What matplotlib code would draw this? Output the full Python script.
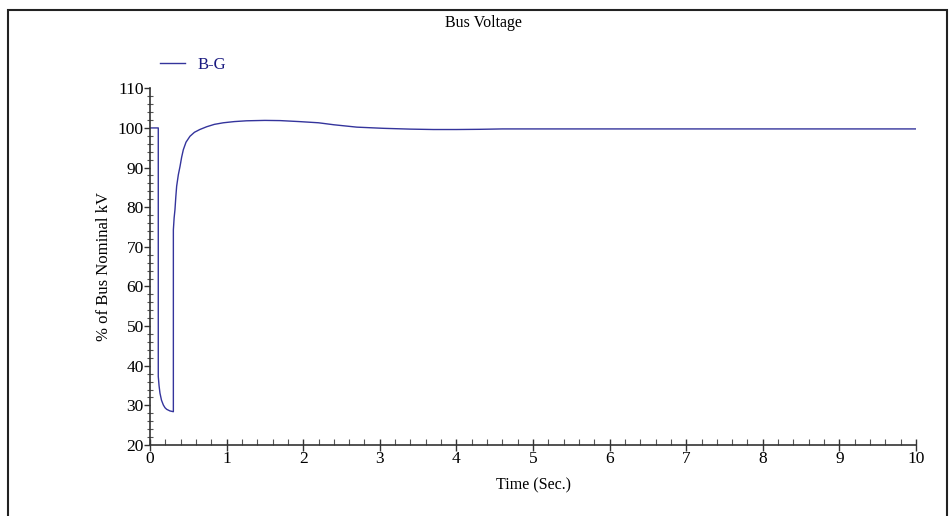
import matplotlib
matplotlib.use("Agg")
import matplotlib.pyplot as plt
from matplotlib.ticker import MultipleLocator
from matplotlib.patches import Rectangle

# bus voltage trace (time in s, % of nominal kV)
time = [0.0, 0.108, 0.108, 0.118, 0.13, 0.15, 0.174, 0.196, 0.218, 0.26,
        0.305, 0.305, 0.315, 0.326, 0.337, 0.348, 0.37, 0.392, 0.413, 0.435,
        0.47, 0.522, 0.58, 0.65, 0.74, 0.84, 0.957, 1.1, 1.26, 1.5,
        1.7, 1.95, 2.2, 2.4, 2.7, 3.05, 3.4, 3.7, 4.0, 4.3,
        4.6, 5.0, 6.0, 7.0, 8.0, 9.0, 10.0]
voltage = [100.0, 100.0, 37.3, 35.0, 33.1, 31.3, 30.1, 29.4, 29.0, 28.6,
           28.4, 74.3, 77.3, 79.4, 82.6, 85.3, 88.2, 90.3, 92.6, 94.5,
           96.4, 97.9, 98.9, 99.6, 100.3, 100.9, 101.3, 101.6, 101.8, 101.9,
           101.85, 101.6, 101.3, 100.8, 100.2, 99.9, 99.7, 99.6, 99.6, 99.65,
           99.75, 99.75, 99.75, 99.75, 99.75, 99.75, 99.75]

line_col = "#34349c"
plt.rcParams["font.family"] = ["Liberation Serif", "DejaVu Serif"]

fig = plt.figure(figsize=(9.49, 5.16), dpi=100)
ax = fig.add_axes([150 / 949, 1 - 445 / 516, 766 / 949, (445 - 88.3) / 516])

ax.plot(time, voltage, color=line_col, lw=1.0, label="B-G")

ax.set_xlim(0, 10)
ax.set_ylim(20, 110)
ax.xaxis.set_major_locator(MultipleLocator(1))
ax.xaxis.set_minor_locator(MultipleLocator(0.2))
ax.yaxis.set_major_locator(MultipleLocator(10))
ax.yaxis.set_minor_locator(MultipleLocator(2))

for s in ["top", "right"]:
    ax.spines[s].set_visible(False)
for s in ["left", "bottom"]:
    ax.spines[s].set_color("#333333")
    ax.spines[s].set_linewidth(1.2)

ax.tick_params(axis="x", which="major", direction="inout", length=8, width=1, colors="#333333",
               labelsize=12.5, labelcolor="black", pad=0)
ax.tick_params(axis="x", which="minor", direction="in", length=4, width=0.8, colors="#555555")
ax.tick_params(axis="y", which="major", direction="out", length=4, width=1, colors="#333333",
               labelsize=12.5, labelcolor="black", pad=0.5)
ax.tick_params(axis="y", which="minor", direction="inout", length=4, width=0.8, colors="#555555")

ax.set_xlabel("Time (Sec.)", fontsize=11.5, labelpad=8)
ax.set_ylabel("% of Bus Nominal kV", fontsize=12, labelpad=4)

fig.text(483 / 949, 1 - 23 / 516, "Bus Voltage", ha="center", va="center", fontsize=11.5)

ax.legend(loc="upper left", bbox_to_anchor=(-0.006, 1.13), frameon=False, fontsize=12,
          handlelength=1.5, handletextpad=0.7, labelcolor="#1a1a80")

# outer frame of the plot window
fig.patches.append(Rectangle((8 / 949, -0.05), (947 - 8) / 949, 1.05 - 10 / 516,
                             transform=fig.transFigure, fill=False,
                             edgecolor="#222222", lw=1.5))

fig.savefig("out.png", dpi=100)
